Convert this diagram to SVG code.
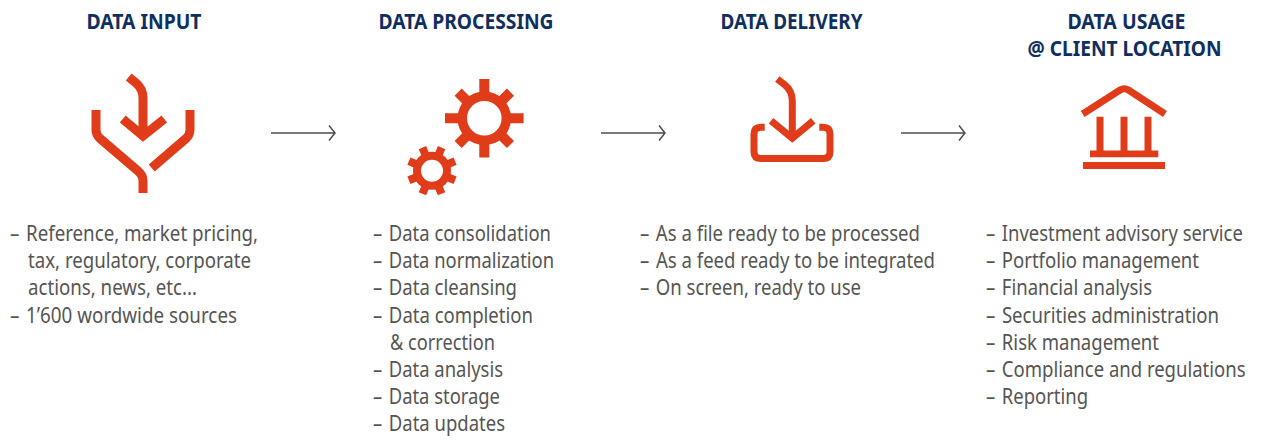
<svg xmlns="http://www.w3.org/2000/svg" width="1261" height="441" viewBox="0 0 1261 441">
<style>
.h{font:700 21.500px "Noto Sans",sans-serif;fill:#0f2f60}
.b{font:400 21px "Noto Sans",sans-serif;fill:#555}
.i{fill:none;stroke:#e03c1a;stroke-linejoin:miter;stroke-linecap:butt}
.f{fill:#e03c1a}
.c{fill:none;stroke:#4d4d4d;stroke-width:1.5}
</style>
<rect width="1261" height="441" fill="#fff"/>
<g id="connectors">
<path class="c" d="M271 133H334M329 125.500L335 133L329 140.500"/>
<path class="c" d="M601 133H664M659 125.500L665 133L659 140.500"/>
<path class="c" d="M901 133H964M959 125.500L965 133L959 140.500"/>
</g>
<g id="data-input">
<text class="h" x="86.500" y="29" textLength="115" lengthAdjust="spacingAndGlyphs">DATA INPUT</text>
<path class="i" stroke-width="9" d="M128.700 77L136 83Q143 89 143 98V135"/>
<path class="i" stroke-width="9" d="M122.700 119L143 136L164.300 119"/>
<path class="i" stroke-width="9" d="M96 110V130Q96 135 100 138.500L138 171Q143 175 143 181V193"/>
<path class="i" stroke-width="9" d="M190 110V130Q190 135 186 138.500L151.700 168"/>
<text class="b" x="10" y="241" textLength="248" lengthAdjust="spacingAndGlyphs">– <tspan dx="2">Reference, market pricing,</tspan></text>
<text class="b" x="28" y="268.200" textLength="223" lengthAdjust="spacingAndGlyphs">tax, regulatory, corporate</text>
<text class="b" x="28" y="295.400" textLength="169" lengthAdjust="spacingAndGlyphs">actions, news, etc...</text>
<text class="b" x="10" y="322.600" textLength="227" lengthAdjust="spacingAndGlyphs">– <tspan dx="2">1’600 wordwide sources</tspan></text>
</g>
<g id="data-processing">
<text class="h" x="378.500" y="29" textLength="175" lengthAdjust="spacingAndGlyphs">DATA PROCESSING</text>
<g transform="translate(484.300 118.300)">
<circle class="i" r="22" stroke-width="9.500"/>
<path class="f" d="M-5 -39.300H5V-25H-5ZM-5 25H5V39.300H-5ZM-39.300 -5V5H-25V-5ZM25 -5V5H39.300V-5Z"/>
<path class="f" transform="rotate(45)" d="M-5 -37H5V-25H-5ZM-5 25H5V37H-5ZM-37 -5V5H-25V-5ZM25 -5V5H37V-5Z"/>
</g>
<g transform="translate(432 170.700)">
<circle class="i" r="15" stroke-width="8"/>
<g transform="rotate(22.500)">
<path class="f" d="M-4 -25H4V-17H-4ZM-4 17H4V25H-4ZM-25 -4V4H-17V-4ZM17 -4V4H25V-4Z"/>
<path class="f" transform="rotate(45)" d="M-4 -25H4V-17H-4ZM-4 17H4V25H-4ZM-25 -4V4H-17V-4ZM17 -4V4H25V-4Z"/>
</g>
</g>
<text class="b" x="373" y="241" textLength="178" lengthAdjust="spacingAndGlyphs">– <tspan dx="2">Data consolidation</tspan></text>
<text class="b" x="373" y="268.200" textLength="181" lengthAdjust="spacingAndGlyphs">– <tspan dx="2">Data normalization</tspan></text>
<text class="b" x="373" y="295.400" textLength="144" lengthAdjust="spacingAndGlyphs">– <tspan dx="2">Data cleansing</tspan></text>
<text class="b" x="373" y="322.600" textLength="160" lengthAdjust="spacingAndGlyphs">– <tspan dx="2">Data completion</tspan></text>
<text class="b" x="390" y="349.800" textLength="105" lengthAdjust="spacingAndGlyphs">&amp; correction</text>
<text class="b" x="373" y="377" textLength="130" lengthAdjust="spacingAndGlyphs">– <tspan dx="2">Data analysis</tspan></text>
<text class="b" x="373" y="404.200" textLength="127" lengthAdjust="spacingAndGlyphs">– <tspan dx="2">Data storage</tspan></text>
<text class="b" x="373" y="431.400" textLength="132" lengthAdjust="spacingAndGlyphs">– <tspan dx="2">Data updates</tspan></text>
</g>
<g id="data-delivery">
<text class="h" x="720.500" y="29" textLength="142" lengthAdjust="spacingAndGlyphs">DATA DELIVERY</text>
<path class="i" stroke-width="7" d="M777.300 79L785 85Q792.300 91 792.300 101V138"/>
<path class="i" stroke-width="7" d="M771 120.700L792.300 138.300L813.300 120.700"/>
<path class="i" stroke-width="7" d="M764.700 127.300H761Q754 127.300 754 134V152Q754 158.500 761 158.500H823Q830 158.500 830 152V134Q830 127.300 823 127.300H819.300"/>
<text class="b" x="640" y="241" textLength="280" lengthAdjust="spacingAndGlyphs">– <tspan dx="2">As a file ready to be processed</tspan></text>
<text class="b" x="640" y="268.200" textLength="295" lengthAdjust="spacingAndGlyphs">– <tspan dx="2">As a feed ready to be integrated</tspan></text>
<text class="b" x="640" y="295.400" textLength="221" lengthAdjust="spacingAndGlyphs">– <tspan dx="2">On screen, ready to use</tspan></text>
</g>
<g id="data-usage">
<text class="h" x="1067.500" y="29" textLength="118" lengthAdjust="spacingAndGlyphs">DATA USAGE</text>
<text class="h" x="1027.500" y="56" textLength="194" lengthAdjust="spacingAndGlyphs">@ CLIENT LOCATION</text>
<path class="i" stroke-width="7" d="M1082.700 114L1120 90Q1124.300 87.500 1128.500 90L1165 114"/>
<path class="f" d="M1096.500 116.700H1103.500V150.500H1120.500V116.700H1127.500V150.500H1144.500V116.700H1151.500V150.500H1158.300V157.300H1090V150.500H1096.500Z"/>
<rect class="f" x="1083" y="162" width="82" height="7"/>
<text class="b" transform="translate(986 241) scale(.878 1)">– <tspan dx="2">Investment advisory service</tspan></text>
<text class="b" x="986" y="268.200" textLength="213" lengthAdjust="spacingAndGlyphs">– <tspan dx="2">Portfolio management</tspan></text>
<text class="b" x="986" y="295.400" textLength="166" lengthAdjust="spacingAndGlyphs">– <tspan dx="2">Financial analysis</tspan></text>
<text class="b" x="986" y="322.600" textLength="233" lengthAdjust="spacingAndGlyphs">– <tspan dx="2">Securities administration</tspan></text>
<text class="b" x="986" y="349.800" textLength="173" lengthAdjust="spacingAndGlyphs">– <tspan dx="2">Risk management</tspan></text>
<text class="b" transform="translate(986 377) scale(.882 1)">– <tspan dx="2">Compliance and regulations</tspan></text>
<text class="b" x="986" y="404.200" textLength="102" lengthAdjust="spacingAndGlyphs">– <tspan dx="2">Reporting</tspan></text>
</g>
</svg>
